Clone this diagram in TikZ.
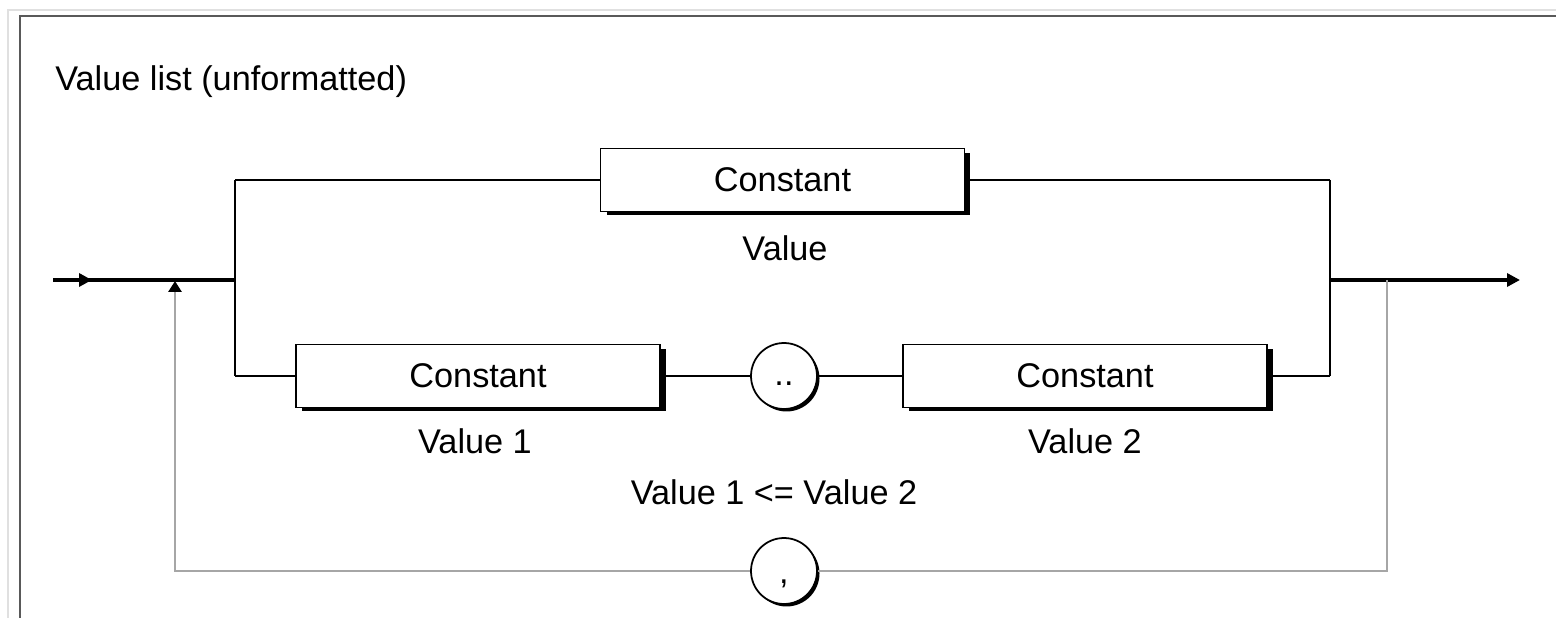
\documentclass[tikz,border=0pt]{standalone}
\usepackage{fontspec}
\setmainfont{Liberation Sans}
\usetikzlibrary{arrows.meta,shadows}
\begin{document}
\begin{tikzpicture}[x=0.02cm,y=-0.02cm,
  every node/.style={font=\fontsize{19.5}{23}\selectfont},
  rail/.style={line width=1.6pt},
  mainrail/.style={line width=2.4pt},
  looprail/.style={line width=1.6pt, draw=black!35},
  constbox/.style={draw, line width=1pt, fill=white, minimum width=7.28cm,
    minimum height=1.26cm, inner sep=0pt,
    drop shadow={shadow xshift=0.12cm, shadow yshift=-0.08cm, fill=black, opacity=1}},
  sepcircle/.style={circle, draw, line width=1pt, fill=white, minimum size=1.32cm,
    inner sep=0pt, text height=0pt, text depth=0pt,
    drop shadow={shadow xshift=0.05cm, shadow yshift=-0.05cm, fill=black, opacity=1}},
  lbl/.style={inner sep=0pt},
  >={Triangle[length=0.26cm,width=0.26cm]}
]
\useasboundingbox (0,0) rectangle (1556,618);

% window frame
\draw[draw=black!12, line width=1pt] (8,618) -- (8,10) -- (1556,10);
\draw[draw=black!65, line width=1.2pt] (20,618) -- (20,16) -- (1556,16);

% title
\node[lbl, anchor=west] (title) at (55,82) {Value list (unformatted)};

% syntax elements
\node[constbox] (cval) at (782.5,180) {Constant};
\node[constbox] (cv1) at (478,376) {Constant};
\node[constbox] (cv2) at (1085,376) {Constant};
\node[sepcircle] (range) at (784,376) {\raisebox{-0.2cm}{..}};
\node[sepcircle] (comma) at (784,571) {\raisebox{-0.25cm}{,}};

% captions
\node[lbl] (lv) at (785,248) {Value};
\node[lbl] (lv1) at (475,441) {Value 1};
\node[lbl] (lv2) at (1085,441) {Value 2};
\node[lbl] (cond) at (774,492) {Value 1 <= Value 2};

% junction points
\coordinate (in) at (53,280);
\coordinate (inmark) at (92,280);
\coordinate (split) at (235,280);
\coordinate (splitT) at (235,180);
\coordinate (splitB) at (235,376);
\coordinate (join) at (1330,280);
\coordinate (joinT) at (1330,180);
\coordinate (joinB) at (1330,376);
\coordinate (out) at (1520,280);
\coordinate (loopR) at (1387,280);
\coordinate (loopL) at (175,281);

% main rail
\draw[mainrail] (in) -- (split);
\draw[mainrail,->] (in) -- (inmark);
\draw[mainrail,->] (join) -- (out);

% branches
\draw[rail] (splitT) -- (splitB);
\draw[rail] (joinT) -- (joinB);
\draw[rail] (splitT) -- (cval.west);
\draw[rail] (cval.east) -- (joinT);
\draw[rail] (splitB) -- (cv1.west);
\draw[rail] (cv1.east) -- (range.west);
\draw[rail] (range.east) -- (cv2.west);
\draw[rail] (cv2.east) -- (joinB);

% repetition loop
\draw[looprail] (loopR) |- (comma.east);
\draw[looprail, -{Triangle[length=0.22cm,width=0.26cm,color=black]}] (comma.west) -| (loopL);
\end{tikzpicture}
\end{document}
